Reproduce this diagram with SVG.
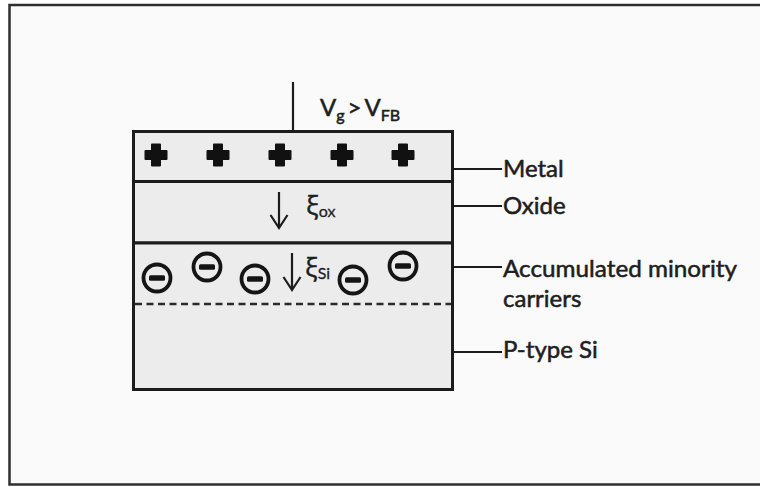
<svg xmlns="http://www.w3.org/2000/svg" width="760" height="487" viewBox="0 0 760 487">
  <defs>
    <style>
      .frame { fill: #fafafa; stroke: #2e2e2e; stroke-width: 2.5; }
      .layer { fill: #ececec; stroke: #1c1c1c; stroke-width: 3; }
      .line { stroke: #1c1c1c; stroke-width: 2.2; fill: none; }
      .dash { stroke: #2a2a2a; stroke-width: 2.5; stroke-dasharray: 7 4.5; fill: none; }
      .lbl { font-family: Lato, "Open Sans", sans-serif; font-size: 24px; fill: #1e1e1e; stroke: #1e1e1e; stroke-width: 0.55; }
      .sub { font-size: 16px; }
      .greek { font-family: "Noto Sans", "DejaVu Sans", sans-serif; font-size: 26px; fill: #1e1e1e; stroke: #1e1e1e; stroke-width: 0.3; }
      .plus { fill: #111; stroke: #111; stroke-width: 2; stroke-linejoin: round; }
      .minus-c { fill: none; stroke: #151515; stroke-width: 3.8; }
      .minus-b { fill: #151515; }
    </style>
    <g id="plus">
      <polygon class="plus" points="-4,-10.5 4,-10.5 4,-4 10.5,-4 10.5,4 4,4 4,10.5 -4,10.5 -4,4 -10.5,4 -10.5,-4 -4,-4"/>
    </g>
    <g id="minus">
      <circle class="minus-c" cx="0" cy="0" r="13.5"/>
      <rect class="minus-b" x="-8" y="-2.8" width="16" height="5.6" rx="1.5"/>
    </g>
  </defs>

  <rect class="frame" x="9.5" y="5" width="760" height="479.5"/>

  <g id="gate">
    <line class="line" x1="293" y1="82" x2="293" y2="131"/>
    <text class="lbl" x="320" y="116" font-size="25">V<tspan class="sub" dy="5">g</tspan><tspan dy="-5">&#8201;&gt;&#8201;V</tspan><tspan class="sub" dy="5">FB</tspan></text>
  </g>

  <g id="metal">
    <rect class="layer" x="133.5" y="131.5" width="319" height="50"/>
    <use href="#plus" x="156" y="155"/>
    <use href="#plus" x="218" y="155"/>
    <use href="#plus" x="280" y="155"/>
    <use href="#plus" x="342" y="155"/>
    <use href="#plus" x="403" y="155"/>
  </g>

  <g id="oxide">
    <rect class="layer" x="133.5" y="181.5" width="319" height="61.5"/>
    <text class="greek" x="306" y="214">ξ<tspan class="sub" font-family="Lato, sans-serif" dy="3">ox</tspan></text>
  </g>

  <g id="silicon">
    <rect class="layer" x="133.5" y="243" width="319" height="146.5"/>
    <line class="dash" x1="135" y1="304" x2="451" y2="304"/>
    <use href="#minus" x="157" y="278"/>
    <use href="#minus" x="207" y="267"/>
    <use href="#minus" x="255" y="279"/>
    <use href="#minus" x="353" y="280"/>
    <use href="#minus" x="403" y="266"/>
    <text class="greek" x="305" y="276">ξ<tspan class="sub" font-family="Lato, sans-serif" dy="3">Si</tspan></text>
  </g>

  <g id="connectors">
    <path class="line" d="M279,192 V228 M270.5,215 L279,228 L287.5,215"/>
    <path class="line" d="M292,253 V290 M283.5,277 L292,290 L300.5,277"/>
    <line class="line" x1="452" y1="169" x2="502" y2="169"/>
    <line class="line" x1="452" y1="206" x2="502" y2="206"/>
    <line class="line" x1="452" y1="267" x2="502" y2="267"/>
    <line class="line" x1="452" y1="352" x2="502" y2="352"/>
  </g>

  <g id="label-metal"><text class="lbl" x="503" y="177">Metal</text></g>
  <g id="label-oxide"><text class="lbl" x="503" y="214">Oxide</text></g>
  <g id="label-accum">
    <text class="lbl" x="503" y="277" textLength="234" lengthAdjust="spacingAndGlyphs">Accumulated minority</text>
    <text class="lbl" x="503" y="307">carriers</text>
  </g>
  <g id="label-ptype"><text class="lbl" x="503" y="358">P-type Si</text></g>
</svg>
